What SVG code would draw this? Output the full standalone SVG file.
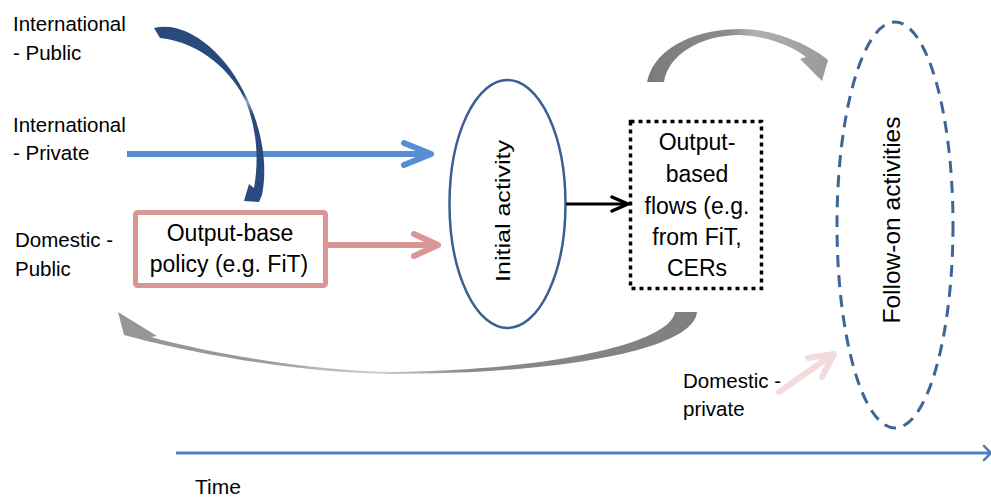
<svg xmlns="http://www.w3.org/2000/svg" width="991" height="498" viewBox="0 0 991 498">
<style>
  text { font-family: "Liberation Sans", Arial, sans-serif; fill: #000; }
  .lbl { font-size: 20.5px; }
  .box { font-size: 23px; text-anchor: middle; }
  .chev { fill: none; stroke-linecap: round; stroke-linejoin: round; }
</style>
<defs>
  <linearGradient id="gTop" x1="0" y1="0" x2="1" y2="0">
    <stop offset="0" stop-color="#7a7a7a"/>
    <stop offset="0.45" stop-color="#8c8c8c"/>
    <stop offset="0.6" stop-color="#b0b0b0"/>
    <stop offset="1" stop-color="#9a9a9a"/>
  </linearGradient>
  <linearGradient id="gBot" x1="1" y1="0" x2="0" y2="0">
    <stop offset="0" stop-color="#7f7f7f"/>
    <stop offset="0.4" stop-color="#8a8a8a"/>
    <stop offset="0.55" stop-color="#d0d0d0"/>
    <stop offset="0.75" stop-color="#9a9a9a"/>
    <stop offset="1" stop-color="#959595"/>
  </linearGradient>
  <linearGradient id="gBlue" x1="0" y1="0" x2="0" y2="1">
    <stop offset="0" stop-color="#2b4a7c"/>
    <stop offset="0.38" stop-color="#2b4a7c"/>
    <stop offset="0.43" stop-color="#8ea3c6"/>
    <stop offset="0.5" stop-color="#2b4a7c"/>
    <stop offset="1" stop-color="#2b4a7c"/>
  </linearGradient>
</defs>

<g id="labels">
  <text class="lbl" x="13" y="31">International</text>
  <text class="lbl" x="13" y="60">- Public</text>
  <text class="lbl" x="13" y="132">International</text>
  <text class="lbl" x="13" y="160">- Private</text>
  <text class="lbl" x="15" y="247">Domestic -</text>
  <text class="lbl" x="15" y="276">Public</text>
  <text class="lbl" x="683" y="388">Domestic -</text>
  <text class="lbl" x="683" y="416">private</text>
  <text class="lbl" x="195" y="494" style="font-size:21px">Time</text>
</g>

<g id="node-policy">
  <rect x="135.5" y="212.5" width="190" height="73" rx="2" fill="#fff" stroke="#d99694" stroke-width="5"/>
  <text class="box" x="230" y="241">Output-base</text>
  <text class="box" x="229" y="272">policy (e.g. FiT)</text>
</g>

<g id="node-initial">
  <ellipse cx="507.5" cy="204" rx="58" ry="124" fill="#fff" stroke="#3a6093" stroke-width="2.5"/>
  <text transform="translate(510,211) rotate(-90)" x="0" y="0" text-anchor="middle" style="font-size:21px" textLength="142" lengthAdjust="spacingAndGlyphs">Initial activity</text>
</g>

<g id="node-output">
  <rect x="630.5" y="121.5" width="131" height="167" fill="#fff" stroke="#000" stroke-width="3.5" stroke-dasharray="4 4"/>
  <text class="box" x="697" y="150">Output-</text>
  <text class="box" x="697" y="182">based</text>
  <text class="box" x="697" y="214">flows (e.g.</text>
  <text class="box" x="697" y="245">from FiT,</text>
  <text class="box" x="697" y="276">CERs</text>
</g>

<g id="node-followon">
  <ellipse cx="895" cy="225" rx="58" ry="203" fill="none" stroke="#3d6596" stroke-width="3" stroke-dasharray="12 8"/>
  <text transform="translate(900,220) rotate(-90)" x="0" y="0" text-anchor="middle" style="font-size:24.5px">Follow-on activities</text>
</g>

<g id="connectors">
  <line x1="127" y1="154" x2="430" y2="154" stroke="#558ed5" stroke-width="6"/>
  <polyline class="chev" points="404,143 431,154 404,165" stroke="#558ed5" stroke-width="6"/>
  <path d="M154,28 C185,20 225,50 247,98 C262,130 268,165 262,195 L259,202 L244,201 L249,184 L254,188 C259,160 257,130 246,102 C233,72 200,42 160,38 Z" fill="url(#gBlue)"/>
  <line x1="328" y1="245" x2="437" y2="245" stroke="#d99694" stroke-width="6"/>
  <polyline class="chev" points="414,234 438,245 414,256" stroke="#d99694" stroke-width="6"/>
  <line x1="566" y1="204" x2="627" y2="204" stroke="#000" stroke-width="3"/>
  <polyline class="chev" points="612,197 628,204 612,211" stroke="#000" stroke-width="3.5"/>
  <path d="M647,82 C655,45 700,29 740,29 C775,29 810,45 828,60 L822,81 L800,59 L806,57 C790,45 765,36 740,35 C700,35 668,55 664,82 Z" fill="url(#gTop)"/>
  <path d="M118,312 L157,336 L151,337 C220,356 320,371 390,372 C540,371 670,345 675,312 L697,312 C694,350 560,374 390,374 C300,373 190,353 124,335 Z" fill="url(#gBot)"/>
  <line x1="779" y1="392" x2="832" y2="355" stroke="#f2dcdb" stroke-width="6" stroke-linecap="round"/>
  <polyline class="chev" points="808,358 834,354 822,377" stroke="#f2dcdb" stroke-width="6"/>
  <line x1="176" y1="453" x2="991" y2="453" stroke="#4f81bd" stroke-width="3"/>
  <polyline class="chev" points="984,446 991,453 984,460" stroke="#4f81bd" stroke-width="2.5"/>
</g>
</svg>
